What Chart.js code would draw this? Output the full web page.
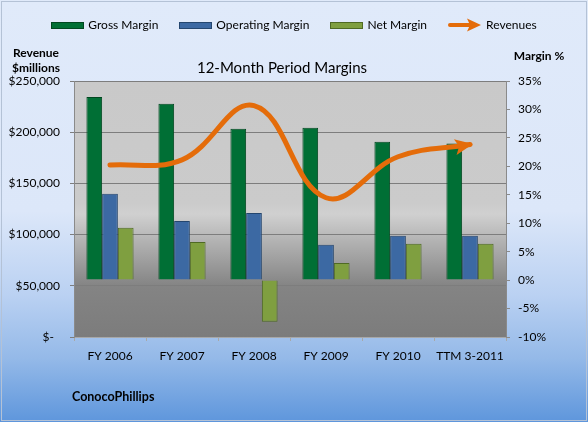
<!DOCTYPE html>
<html lang="en">
<head>
<meta charset="UTF-8">
<title>12-Month Period Margins</title>
<script src="https://cdn.jsdelivr.net/npm/chart.js"></script>
<style>
  body { margin: 0; }
  .wrap {
    position: relative; width: 588px; height: 422px; overflow: hidden;
    background: linear-gradient(to bottom, #e0eafa 0%, #dce7f9 50%, #bad1f2 70%, #94b9e8 85%, #5e96dc 100%);
    font-family: Lato, "Open Sans", sans-serif; color: #000;
  }
  .wrap canvas { position: absolute; left: 0; top: 0; }
  .frame { position: absolute; left: 1px; top: 1px; right: 1px; bottom: 1px; border: 1px solid #b4c2d6; pointer-events: none; }
  .legend { position: absolute; top: 18px; left: 0; width: 588px; display: flex; justify-content: center; gap: 21px; font-size: 12px; line-height: 14px; }
  .legend span { display: flex; align-items: center; gap: 4px; }
  .legend i { display: inline-block; width: 31px; height: 5px; border: 1px solid; }
  .title { position: absolute; top: 58px; left: 0; width: 564px; text-align: center; font-size: 15px; }
  .ytitle { position: absolute; font-weight: bold; font-size: 12px; line-height: 15px; text-align: center; }
  .brand { position: absolute; left: 72px; top: 389px; font-weight: bold; font-size: 12.5px; }
</style>
</head>
<body>
<div class="wrap">
  <canvas id="marginChart" width="588" height="422"></canvas>
  <div class="legend" id="legend"></div>
  <div class="title">12-Month Period Margins</div>
  <div class="ytitle" style="left:0;top:45px;width:72px;">Revenue<br>$millions</div>
  <div class="ytitle" style="left:506px;top:48px;width:66px;">Margin %</div>
  <div class="brand">ConocoPhillips</div>
  <div class="frame"></div>
</div>
<script>
const periods = ['FY 2006', 'FY 2007', 'FY 2008', 'FY 2009', 'FY 2010', 'TTM 3-2011'];
const grossMargin = [32.2, 31.0, 26.6, 26.8, 24.3, 24.0];
const operatingMargin = [15.2, 10.4, 11.8, 6.2, 7.8, 7.8];
const netMargin = [9.2, 6.7, -7.3, 3.0, 6.4, 6.4];
const revenues = [168000, 173000, 226000, 136000, 176000, 188000];

const orange = '#e46c0a';

Chart.defaults.font.family = 'Lato, "Open Sans", sans-serif';
Chart.defaults.font.size = 12;
Chart.defaults.color = '#000';

// grey plot area, lighter at top, dark towards the bottom
const plotBg = {
    id: 'plotBg',
    beforeDraw(chart) {
        const { ctx, chartArea: a } = chart;
        const g = ctx.createLinearGradient(0, a.top, 0, a.bottom);
        g.addColorStop(0, '#c9c9c9');
        g.addColorStop(0.48, '#cbcbcb');
        g.addColorStop(0.52, '#d0d0d0');
        g.addColorStop(0.62, '#b4b4b4');
        g.addColorStop(0.8, '#848484');
        g.addColorStop(1, '#7c7c7c');
        ctx.save();
        ctx.fillStyle = g;
        ctx.fillRect(a.left, a.top, a.right - a.left, a.bottom - a.top);
        ctx.restore();
    }
};

// arrow head at the end of the revenue line
const arrowHead = {
    id: 'arrowHead',
    afterDatasetsDraw(chart) {
        const pts = chart.getDatasetMeta(3).data;
        const last = pts[pts.length - 1];
        const prev = pts[pts.length - 2];
        let dx = last.x - last.cp1x, dy = last.y - last.cp1y;
        if (!dx && !dy) { dx = last.x - prev.x; dy = last.y - prev.y; }
        const ctx = chart.ctx;
        ctx.save();
        ctx.translate(last.x, last.y);
        ctx.rotate(Math.atan2(dy, dx));
        ctx.beginPath();
        ctx.moveTo(3, 0);
        ctx.lineTo(-15, -8);
        ctx.lineTo(-11, 0);
        ctx.lineTo(-15, 8);
        ctx.closePath();
        ctx.fillStyle = orange;
        ctx.fill();
        ctx.restore();
    }
};

const chart = new Chart(document.getElementById('marginChart'), {
    type: 'bar',
    data: {
        labels: periods,
        datasets: [{
            label: 'Gross Margin',
            data: grossMargin,
            backgroundColor: '#006f35',
            borderColor: '#004720',
            borderWidth: 1,
            yAxisID: 'y1',
            order: 1
        }, {
            label: 'Operating Margin',
            data: operatingMargin,
            backgroundColor: '#3c69a3',
            borderColor: '#24466f',
            borderWidth: 1,
            yAxisID: 'y1',
            order: 1
        }, {
            label: 'Net Margin',
            data: netMargin,
            backgroundColor: '#7f9f40',
            borderColor: '#4f6a24',
            borderWidth: 1,
            yAxisID: 'y1',
            order: 1
        }, {
            type: 'line',
            label: 'Revenues',
            data: revenues,
            borderColor: orange,
            borderWidth: 5,
            borderCapStyle: 'round',
            tension: 0.4,
            pointRadius: 0,
            fill: false,
            yAxisID: 'y',
            order: 0
        }]
    },
    options: {
        responsive: false,
        animation: false,
        layout: { padding: { top: 81, left: 0, right: 0, bottom: 0 } },
        datasets: {
            bar: { categoryPercentage: 0.655, barPercentage: 1.0 }
        },
        plugins: {
            legend: { display: false },
            title: { display: false },
            tooltip: { enabled: false }
        },
        scales: {
            x: {
                grid: { drawOnChartArea: false, offset: true, tickLength: 4, color: '#a8a8a8' },
                border: { color: '#a8a8a8' },
                ticks: { padding: 8, maxRotation: 0, minRotation: 0, autoSkip: false },
                afterFit: s => { s.height = 85; }
            },
            y: {
                position: 'left',
                min: 0,
                max: 250000,
                grid: { color: '#7d7d7d', tickLength: 4 },
                border: { color: '#8a8a8a' },
                ticks: {
                    stepSize: 50000,
                    padding: 10,
                    callback: v => v === 0 ? '$-  ' : '$' + v.toLocaleString('en-US')
                },
                afterFit: s => { s.width = 74; }
            },
            y1: {
                position: 'right',
                min: -10,
                max: 35,
                grid: { drawOnChartArea: false, tickLength: 4, color: '#8a8a8a' },
                border: { color: '#8a8a8a' },
                ticks: { stepSize: 5, padding: 8, callback: v => v + '%' },
                afterFit: s => { s.width = 82; }
            }
        }
    },
    plugins: [plotBg, arrowHead]
});

// legend built from the datasets
const legend = document.getElementById('legend');
chart.data.datasets.forEach(ds => {
    const item = document.createElement('span');
    if (ds.type === 'line') {
        item.innerHTML = '<svg width="34" height="14"><line x1="2" y1="7" x2="22" y2="7" stroke="' + ds.borderColor +
            '" stroke-width="4" stroke-linecap="round"/><path d="M33 7 L19 0.5 L22 7 L19 13.5 Z" fill="' + ds.borderColor + '"/></svg>';
    } else {
        item.innerHTML = '<i style="background:' + ds.backgroundColor + ';border-color:' + ds.borderColor + '"></i>';
    }
    item.appendChild(document.createTextNode(ds.label));
    legend.appendChild(item);
});
</script>
</body>
</html>
